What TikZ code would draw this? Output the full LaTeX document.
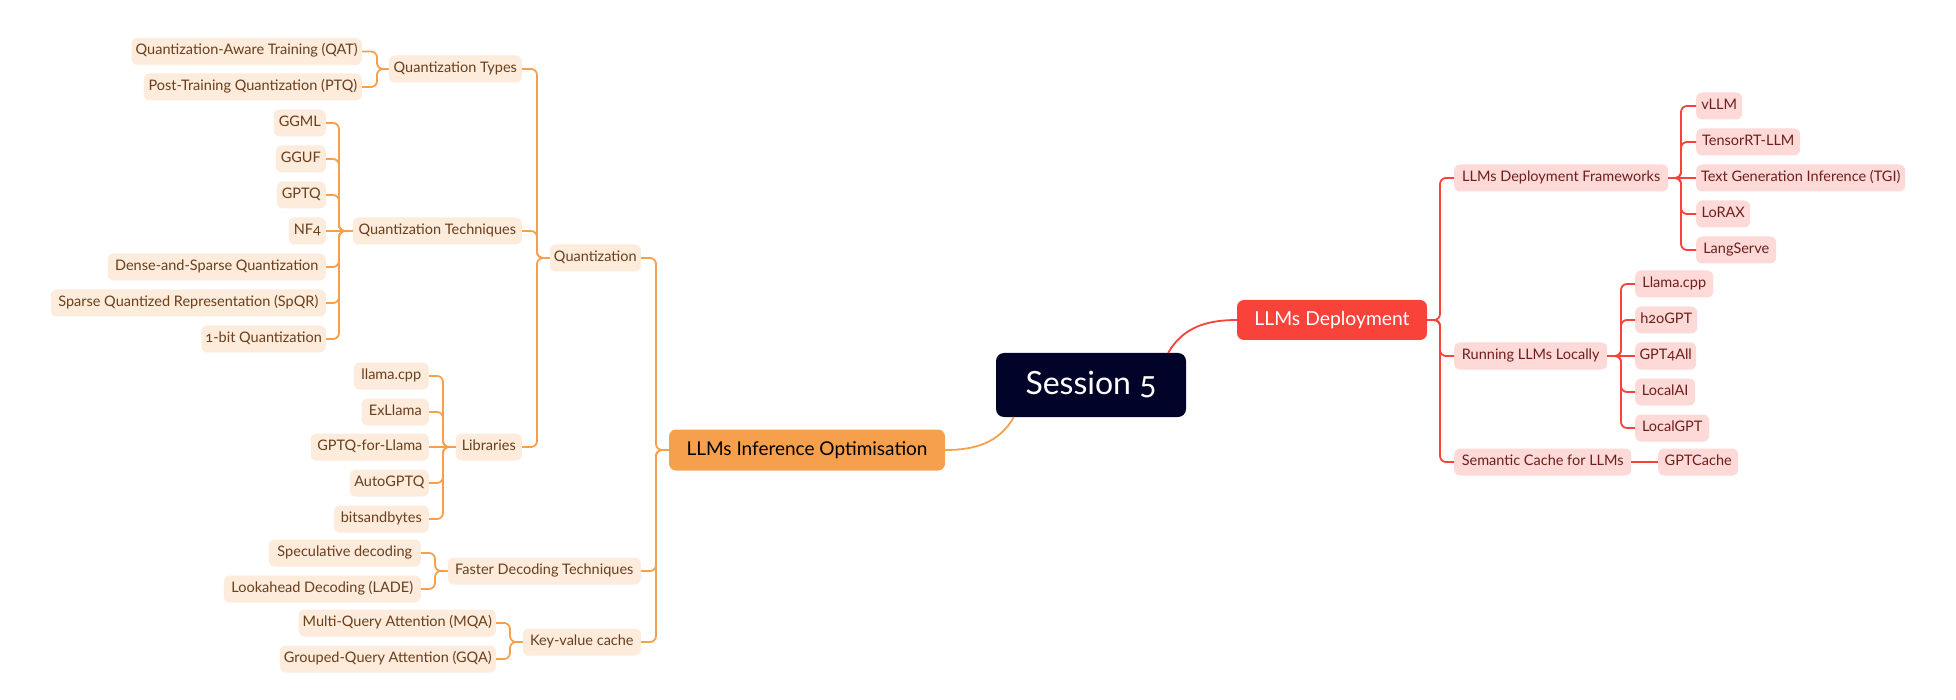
\documentclass[tikz,border=0pt]{standalone}
\usepackage{fontspec}
\setmainfont{Lato}[Numbers=OldStyle]
\definecolor{oline}{HTML}{F6A04E}
\definecolor{ofill}{HTML}{F6A04E}
\definecolor{pfill}{HTML}{FDEBDC}
\definecolor{btext}{HTML}{6A3F1C}
\definecolor{rline}{HTML}{F8423A}
\definecolor{rfill}{HTML}{F8423A}
\definecolor{kfill}{HTML}{FDD9D8}
\definecolor{rtext}{HTML}{6E1F1C}
\definecolor{navy}{HTML}{020328}
\tikzset{
  base/.style={rounded corners=6pt, inner ysep=0pt, inner xsep=4pt, text height=10pt, text depth=3pt, font=\fontsize{14.5}{16}\selectfont},
  onode/.style={base, fill=pfill, text=btext, minimum height=27pt},
  rnode/.style={base, fill=kfill, text=rtext, minimum height=27pt},
  oconn/.style={draw=oline, line width=1.8pt, rounded corners=6pt},
  rconn/.style={draw=rline, line width=1.8pt, rounded corners=6pt},
}
\begin{document}
\begin{tikzpicture}[x=1pt,y=-1pt]
\fill[white] (0,0) rectangle (1956,700);
\useasboundingbox (0,0) rectangle (1956,700);
% central
\node[fill=navy, rounded corners=8pt, minimum width=190pt, minimum height=64pt, text=white, font=\fontsize{32}{36}\selectfont] (s) at (1091,385) {Session 5};
\node[fill=ofill, rounded corners=7pt, minimum width=276pt, minimum height=41pt, text=black, font=\fontsize{19}{22}\selectfont] (lio) at (807,450) {LLMs Inference Optimisation};
\node[fill=rfill, rounded corners=7pt, minimum width=190pt, minimum height=40pt, text=white, font=\fontsize{19.3}{22}\selectfont] (ld) at (1332,320) {LLMs Deployment};
% left level 2
\node[onode, anchor=east, minimum width=91pt] (q) at (641,258) {Quantization};
\node[onode, anchor=east, minimum width=193pt] (fd) at (641,571) {Faster Decoding Techniques};
\node[onode, anchor=east, minimum width=118pt] (kv) at (641,642) {Key-value cache};
% left level 3
\node[onode, anchor=east, minimum width=133pt] (qty) at (522,69) {Quantization Types};
\node[onode, anchor=east, minimum width=169pt] (qte) at (522,231) {Quantization Techniques};
\node[onode, anchor=east, minimum width=66pt] (lib) at (522,447) {Libraries};
% quantization types
\node[onode, anchor=east, minimum width=230pt] (qat) at (362,51.5) {Quantization-Aware Training (QAT)};
\node[onode, anchor=east, minimum width=218pt] (ptq) at (362,87) {Post-Training Quantization (PTQ)};
% techniques
\node[onode, anchor=east, minimum width=52pt] (ggml) at (326,123) {GGML};
\node[onode, anchor=east, minimum width=50pt] (gguf) at (326,159) {GGUF};
\node[onode, anchor=east, minimum width=49pt] (gptq) at (326,195) {GPTQ};
\node[onode, anchor=east, minimum width=37pt] (nf4) at (326,231) {NF4};
\node[onode, anchor=east, minimum width=218pt] (dsq) at (326,267) {Dense-and-Sparse Quantization};
\node[onode, anchor=east, minimum width=275pt] (spqr) at (326,303) {Sparse Quantized Representation (SpQR)};
\node[onode, anchor=east, minimum width=123pt] (obit) at (326,339) {1-bit Quantization};
% libraries
\node[onode, anchor=east, minimum width=75pt] (lcpp) at (429,376) {llama.cpp};
\node[onode, anchor=east, minimum width=67pt] (exl) at (429,412) {ExLlama};
\node[onode, anchor=east, minimum width=118pt] (gfl) at (429,447) {GPTQ-for-Llama};
\node[onode, anchor=east, minimum width=79pt] (agptq) at (429,483) {AutoGPTQ};
\node[onode, anchor=east, minimum width=95pt] (bnb) at (429,519) {bitsandbytes};
% decoding
\node[onode, anchor=east, minimum width=152pt] (spec) at (421,553) {Speculative decoding};
\node[onode, anchor=east, minimum width=197pt] (lade) at (421,589) {Lookahead Decoding (LADE)};
% kv
\node[onode, anchor=east, minimum width=194pt] (mqa) at (496,623) {Multi-Query Attention (MQA)};
\node[onode, anchor=east, minimum width=216pt] (gqa) at (496,659) {Grouped-Query Attention (GQA)};
% right level 2
\node[rnode, anchor=west, minimum width=214pt] (fw) at (1454,178) {LLMs Deployment Frameworks};
\node[rnode, anchor=west, minimum width=153pt] (run) at (1454,356) {Running LLMs Locally};
\node[rnode, anchor=west, minimum width=177pt] (sem) at (1454,462) {Semantic Cache for LLMs};
% frameworks
\node[rnode, anchor=west, minimum width=46pt] (vllm) at (1696,106) {vLLM};
\node[rnode, anchor=west, minimum width=104pt] (trt) at (1696,142) {TensorRT-LLM};
\node[rnode, anchor=west, minimum width=209pt] (tgi) at (1696,178) {Text Generation Inference (TGI)};
\node[rnode, anchor=west, minimum width=54pt] (lorax) at (1696,214) {LoRAX};
\node[rnode, anchor=west, minimum width=80pt] (lserve) at (1696,250) {LangServe};
% running
\node[rnode, anchor=west, minimum width=78pt] (llcpp) at (1635,284) {Llama.cpp};
\node[rnode, anchor=west, minimum width=62pt] (h2o) at (1635,320) {h2oGPT};
\node[rnode, anchor=west, minimum width=61pt] (g4a) at (1635,356) {GPT4All};
\node[rnode, anchor=west, minimum width=60pt] (lai) at (1635,392) {LocalAI};
\node[rnode, anchor=west, minimum width=74pt] (lgpt) at (1635,428) {LocalGPT};
% semantic
\node[rnode, anchor=west, minimum width=80pt] (gcache) at (1658,462) {GPTCache};
% trunk coordinates
\coordinate (tlio) at (656,0);
\coordinate (tq) at (537,0);
\coordinate (tqty) at (377,0);
\coordinate (tqte) at (339,0);
\coordinate (tlib) at (443,0);
\coordinate (tfd) at (435,0);
\coordinate (tkv) at (510,0);
\coordinate (tld) at (1440,0);
\coordinate (tfw) at (1681,0);
\coordinate (trun) at (1621,0);
% central curves
\draw[oconn] ([xshift=18pt]s.south west) to[out=240,in=0] (lio.east);
\draw[rconn] ([xshift=-18pt]s.north east) to[out=60,in=180] (ld.west);
% left connectors
\foreach \c in {q,fd,kv} \draw[oconn] (lio.west) -- (lio.west -| tlio) |- (\c.east);
\foreach \c in {qty,qte,lib} \draw[oconn] (q.west) -- (q.west -| tq) |- (\c.east);
\foreach \c in {qat,ptq} \draw[oconn] (qty.west) -- (qty.west -| tqty) |- (\c.east);
\foreach \c in {ggml,gguf,gptq,dsq,spqr,obit} \draw[oconn] (qte.west) -- (qte.west -| tqte) |- (\c.east);
\draw[oconn] (qte.west) -- (nf4.east);
\foreach \c in {lcpp,exl,agptq,bnb} \draw[oconn] (lib.west) -- (lib.west -| tlib) |- (\c.east);
\draw[oconn] (lib.west) -- (gfl.east);
\foreach \c in {spec,lade} \draw[oconn] (fd.west) -- (fd.west -| tfd) |- (\c.east);
\foreach \c in {mqa,gqa} \draw[oconn] (kv.west) -- (kv.west -| tkv) |- (\c.east);
% right connectors
\foreach \c in {fw,run,sem} \draw[rconn] (ld.east) -- (ld.east -| tld) |- (\c.west);
\foreach \c in {vllm,trt,lorax,lserve} \draw[rconn] (fw.east) -- (fw.east -| tfw) |- (\c.west);
\draw[rconn] (fw.east) -- (tgi.west);
\foreach \c in {llcpp,h2o,lai,lgpt} \draw[rconn] (run.east) -- (run.east -| trun) |- (\c.west);
\draw[rconn] (run.east) -- (g4a.west);
\draw[rconn] (sem.east) -- (gcache.west);
\end{tikzpicture}
\end{document}
